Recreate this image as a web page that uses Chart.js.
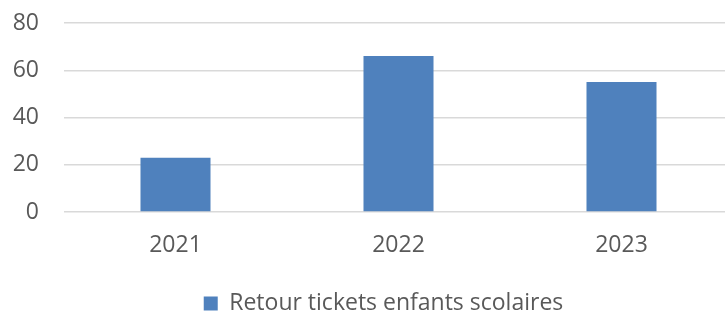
<!DOCTYPE html>
<html>
<head>
<meta charset="utf-8">
<script src="https://cdn.jsdelivr.net/npm/chart.js@4/dist/chart.umd.min.js"></script>
<style>
  html, body { margin: 0; padding: 0; background: #fff; overflow: hidden; }
  #wrap { width: 733px; height: 313px; }
</style>
</head>
<body>
<div id="wrap"><canvas id="retourChart" width="733" height="313"></canvas></div>
<script>
const years = ['2021', '2022', '2023'];
const retourTickets = [23, 66, 55];
const seriesLabel = 'Retour tickets enfants scolaires';

const ctx = document.getElementById('retourChart').getContext('2d');

// petit décalage de la légende vers la droite, comme dans Excel
const legendShift = {
    id: 'legendShift',
    afterLayout(chart) {
        chart.legend.left += 11;
        chart.legend.right += 11;
    }
};

new Chart(ctx, {
    type: 'bar',
    data: {
        labels: years,
        datasets: [{
            label: seriesLabel,
            data: retourTickets,
            backgroundColor: '#4f81bd',
            borderWidth: 0,
            categoryPercentage: 1,
            barPercentage: 0.314
        }]
    },
    options: {
        responsive: false,
        animation: false,
        layout: {
            padding: { top: 23, left: 12, right: 0, bottom: -12 }
        },
        scales: {
            y: {
                min: 0,
                max: 80,
                ticks: {
                    stepSize: 20,
                    color: '#595959',
                    padding: 25,
                    font: { family: 'Open Sans', size: 23 }
                },
                grid: {
                    color: '#d9d9d9',
                    lineWidth: 1.5,
                    drawTicks: false
                },
                border: { display: false },
                afterFit: (axis) => {
                    axis.width = 52;
                    axis.paddingTop = 0;
                    axis.paddingBottom = 0;
                }
            },
            x: {
                ticks: {
                    color: '#595959',
                    padding: 20,
                    font: { family: 'Open Sans', size: 23 }
                },
                grid: { display: false, drawTicks: false },
                border: { display: false },
                afterFit: (axis) => {
                    axis.height = 80;
                    axis.paddingLeft = 0;
                    axis.paddingRight = 0;
                }
            }
        },
        plugins: {
            legend: {
                position: 'bottom',
                labels: {
                    color: '#595959',
                    boxWidth: 14,
                    boxHeight: 14,
                    padding: 0,
                    font: { family: 'Open Sans', size: 23, lineHeight: 1 }
                }
            },
            tooltip: { enabled: false }
        }
    },
    plugins: [legendShift]
});
</script>
</body>
</html>
